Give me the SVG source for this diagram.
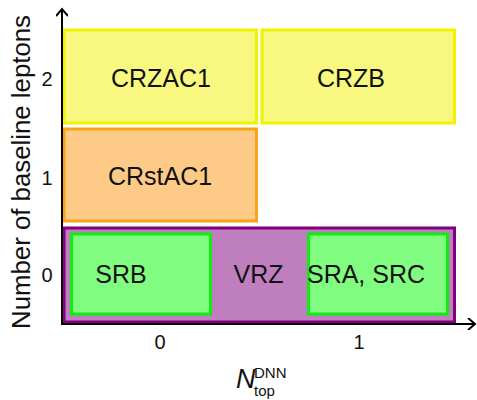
<svg xmlns="http://www.w3.org/2000/svg" width="477" height="400" viewBox="0 0 477 400">
<style>
text{font-family:"Liberation Sans",Arial,sans-serif;fill:#111}
.lbl{font-size:25px;text-anchor:middle}
.tick{font-size:20px;text-anchor:middle}
.yel{fill:#f8f880;stroke:#f2f200;stroke-width:3}
.org{fill:#fdca88;stroke:#f8a416;stroke-width:3}
.pur{fill:#bf7fbf;stroke:#800080;stroke-width:3}
.grn{fill:#80fc80;stroke:#10ee10;stroke-width:3}
.axis{stroke:#000;stroke-width:2;fill:none}
</style>
<defs>
<marker id="arr" markerWidth="12" markerHeight="12" refX="9" refY="6" orient="auto" markerUnits="userSpaceOnUse">
<path d="M2,0 L9,6 L2,12" fill="none" stroke="#000" stroke-width="2"/>
</marker>
</defs>
<g id="CRZAC1"><rect class="yel" x="64" y="30" width="192.5" height="93"/><text class="lbl" x="161" y="87">CRZAC1</text></g>
<g id="CRZB"><rect class="yel" x="262" y="30" width="192.5" height="93"/><text class="lbl" x="351" y="87">CRZB</text></g>
<g id="CRstAC1"><rect class="org" x="64" y="129" width="192.5" height="92"/><text class="lbl" x="160" y="185">CRstAC1</text></g>
<g id="VRZ"><rect class="pur" x="64" y="228" width="390.5" height="94"/><text class="lbl" x="258.5" y="283">VRZ</text></g>
<g id="SRB"><rect class="grn" x="71.5" y="234" width="139" height="80"/><text class="lbl" x="121" y="283">SRB</text></g>
<g id="SRA_SRC"><rect class="grn" x="308.5" y="234" width="139" height="80"/><text class="lbl" x="366" y="283">SRA, SRC</text></g>
<g id="connectors">
<line class="axis" x1="62" y1="324" x2="62" y2="9" marker-end="url(#arr)"/>
<line class="axis" x1="61" y1="324" x2="475" y2="324" marker-end="url(#arr)"/>
</g>
<g id="ticks">
<text class="tick" x="47" y="86">2</text>
<text class="tick" x="47" y="185">1</text>
<text class="tick" x="47" y="282">0</text>
<text class="tick" x="160" y="349">0</text>
<text class="tick" x="359" y="349">1</text>
</g>
<g id="ylabel"><text class="lbl" transform="translate(30,172) rotate(-90)" font-size="26" textLength="314" lengthAdjust="spacingAndGlyphs">Number of baseline leptons</text></g>
<g id="xlabel">
<text x="236" y="388" font-size="27" font-style="italic">N</text>
<text x="254" y="378" font-size="15">DNN</text>
<text x="254" y="396" font-size="15">top</text>
</g>
</svg>
